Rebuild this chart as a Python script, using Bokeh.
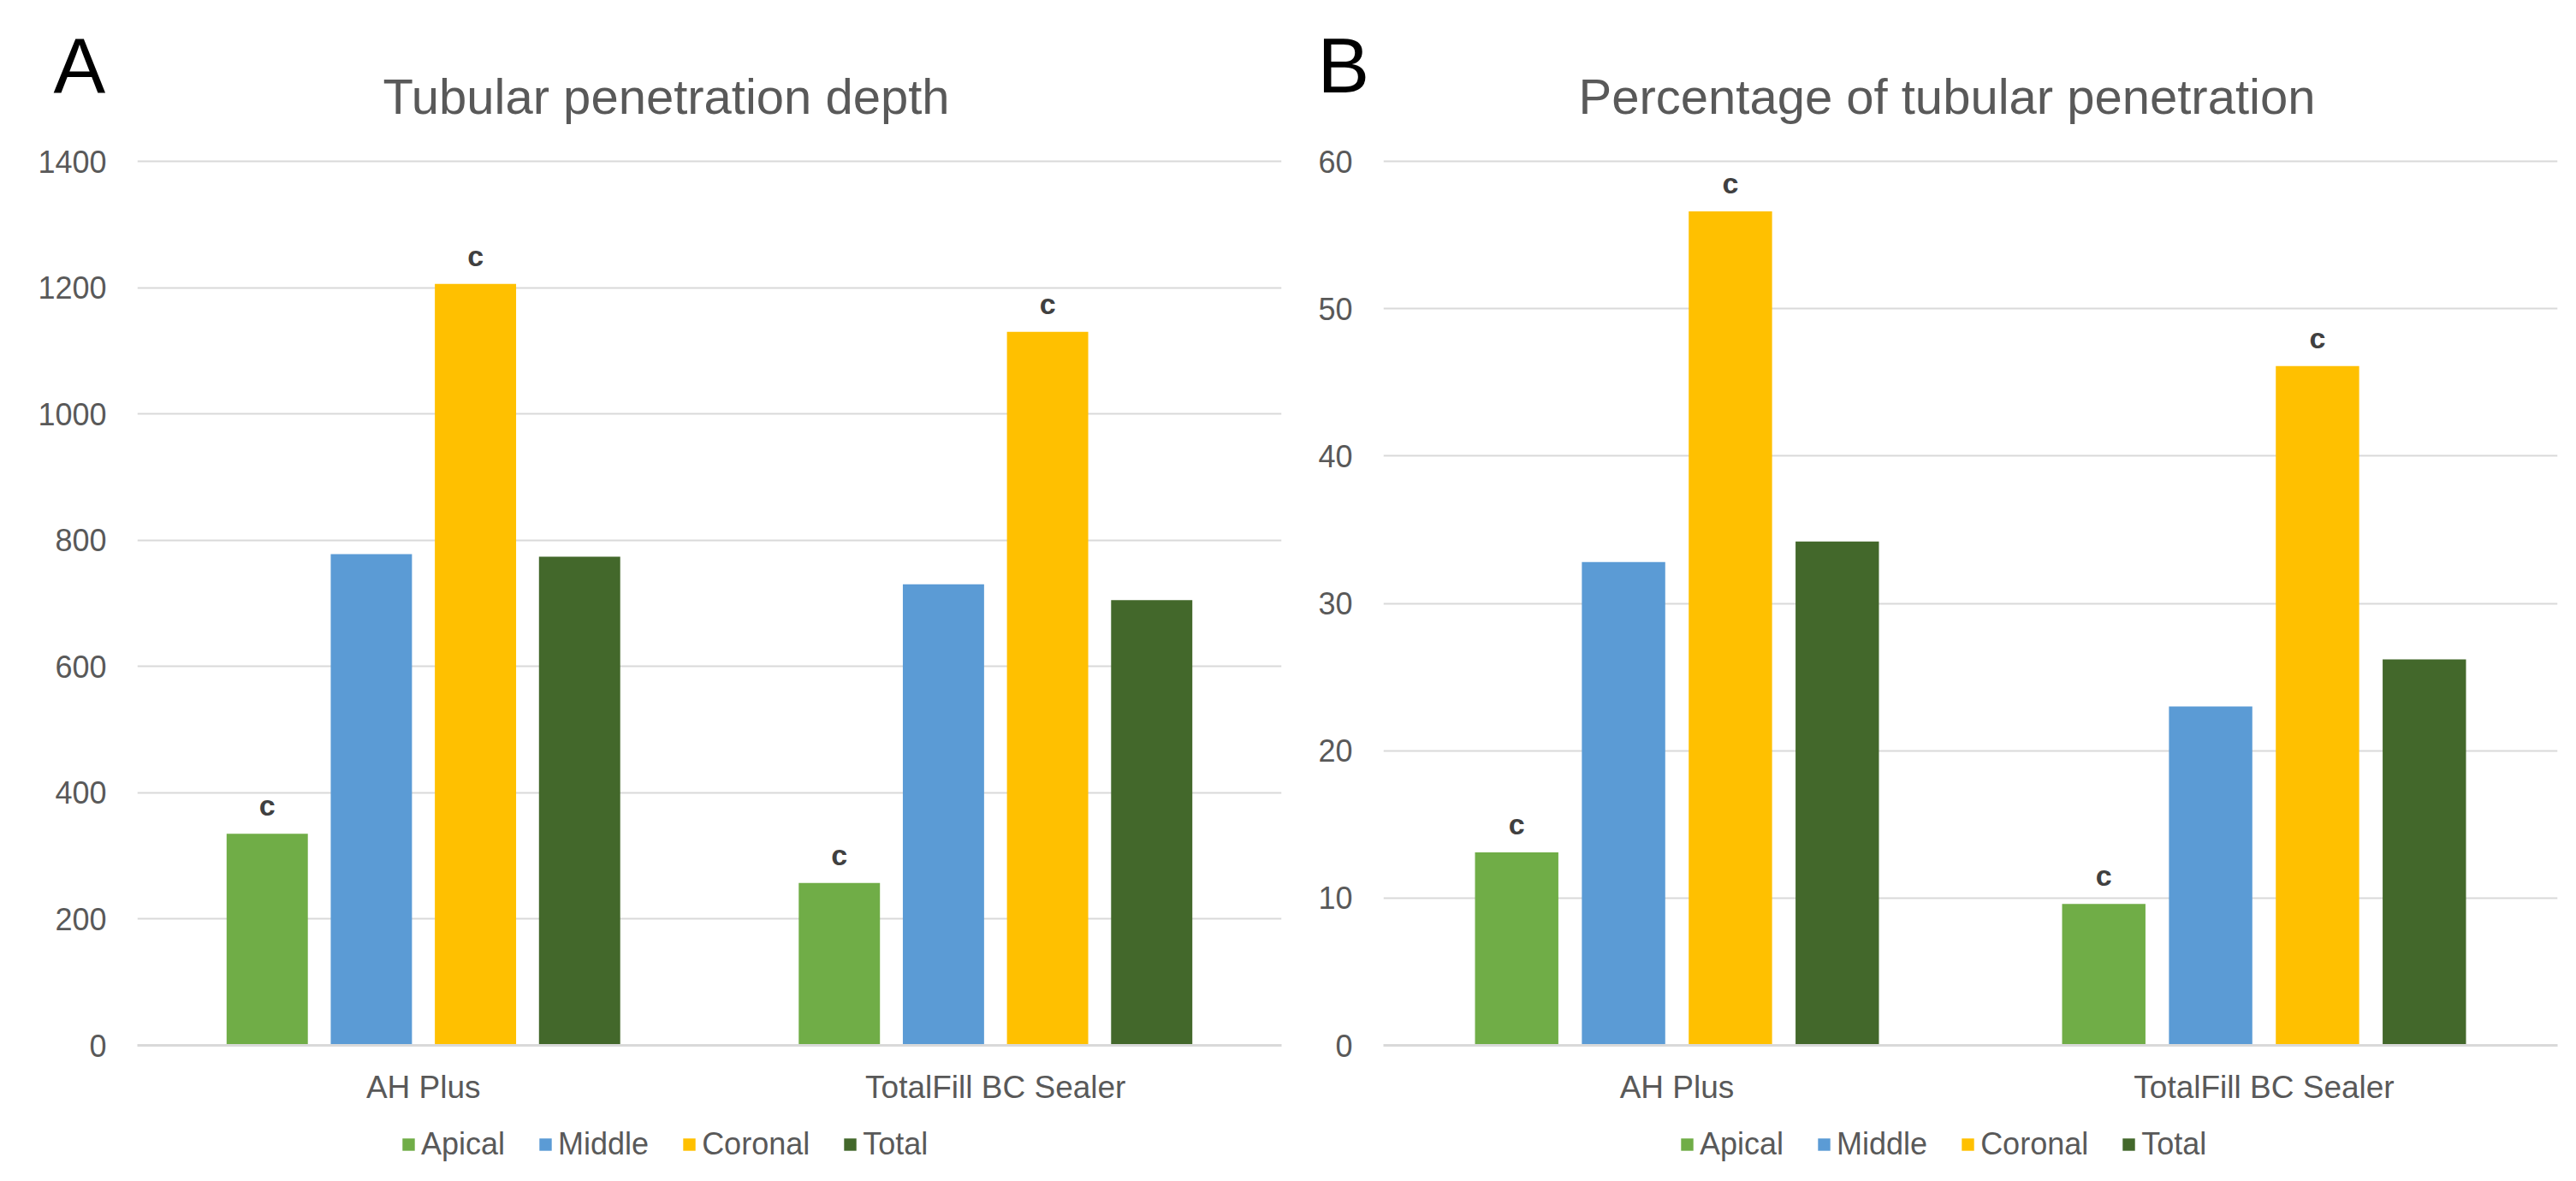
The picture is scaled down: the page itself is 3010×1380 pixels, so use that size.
from bokeh.plotting import figure
from bokeh.models import (ColumnDataSource, Range1d, FactorRange, FixedTicker,
                          Legend, LegendItem, LabelSet, Label)
from bokeh.core.properties import value
from bokeh.transform import dodge
from bokeh.layouts import row, column
from bokeh.embed import file_html
from bokeh.resources import INLINE

# ---------------- data ----------------
groups = ["AH Plus", "TotalFill BC Sealer"]
series = ["Apical", "Middle", "Coronal", "Total"]
colors = ["#70AD47", "#5B9BD5", "#FFC000", "#43682B"]

depth_apical = [335, 257]
depth_middle = [778, 730]
depth_coronal = [1206, 1130]
depth_total = [774, 705]

pct_apical = [13.1, 9.6]
pct_middle = [32.8, 23.0]
pct_coronal = [56.6, 46.1]
pct_total = [34.2, 26.2]

depth_ticks = [0, 200, 400, 600, 800, 1000, 1200, 1400]
pct_ticks = [0, 10, 20, 30, 40, 50, 60]

letters_apical = ["c", "c"]
letters_coronal = ["c", "c"]

panel_letters = ["A", "B"]
titles = ["Tubular penetration depth", "Percentage of tubular penetration"]

# ---------------- styling / layout ----------------
FONT = "Liberation Sans"
GREY = "#595959"
offsets = [-0.273, -0.091, 0.091, 0.273]
BAR_W = 0.142
TOTAL_W = 3004
TOP_H = 150          # strip holding panel letters and titles
CHART_H = 1145       # chart figures
FRAME_H = 1071       # frame from y=150 to y=1221
GRID_H = 1033        # top tick is 1033 px above the baseline
LEG_H = 65           # strip holding the legends


def blank_strip(h):
    s = figure(width=TOTAL_W, height=h, x_range=Range1d(0, TOTAL_W),
               y_range=Range1d(h, 0), x_axis_type=None, y_axis_type=None,
               output_backend="svg", toolbar_location=None, min_border=0)
    s.outline_line_color = None
    s.background_fill_color = "white"
    s.border_fill_color = "white"
    s.grid.visible = False
    return s


# top strip: panel letters + chart titles
top = blank_strip(TOP_H)
for txt, x in zip(panel_letters, [62, 1539]):
    top.add_layout(Label(x=x, y=76, text=txt, text_font=FONT,
                         text_font_size="91px", text_color="black",
                         text_baseline="middle", text_align="left"))
for txt, x in zip(titles, [447, 1844]):
    top.add_layout(Label(x=x, y=112, text=txt, text_font=FONT,
                         text_font_size="58px", text_color=GREY,
                         text_baseline="middle", text_align="left"))


def make_chart(vals, ticks, width, bl, br):
    ymax = ticks[-1] * FRAME_H / GRID_H
    p = figure(x_range=FactorRange(*groups), y_range=Range1d(0, ymax),
               width=width, height=CHART_H, output_backend="svg",
               toolbar_location=None, min_border_left=bl, min_border_right=br,
               min_border_top=0, min_border_bottom=CHART_H - FRAME_H)
    p.outline_line_color = None
    p.background_fill_color = "white"
    p.border_fill_color = "white"

    src = ColumnDataSource(dict(group=groups, Apical=vals[0], Middle=vals[1],
                                Coronal=vals[2], Total=vals[3],
                                la=letters_apical, lc=letters_coronal))
    for s, c, off in zip(series, colors, offsets):
        p.vbar(x=dodge("group", off, range=p.x_range), top=s, width=BAR_W,
               source=src, fill_color=c, line_color=None)

    for col, txt, off in (("Apical", "la", offsets[0]), ("Coronal", "lc", offsets[2])):
        p.add_layout(LabelSet(x=dodge("group", off, range=p.x_range), y=col,
                              text=txt, source=src, y_offset=21,
                              text_align="center", text_baseline="alphabetic",
                              text_font=value(FONT), text_font_size="34px",
                              text_font_style="bold", text_color="#404040"))

    p.yaxis.ticker = FixedTicker(ticks=ticks)
    p.yaxis.axis_line_color = None
    p.yaxis.major_tick_line_color = None
    p.yaxis.minor_tick_line_color = None
    p.yaxis.major_label_standoff = 30
    p.yaxis.major_label_text_font = FONT
    p.yaxis.major_label_text_font_size = "36px"
    p.yaxis.major_label_text_color = GREY

    p.xaxis.axis_line_color = "#D9D9D9"
    p.xaxis.axis_line_width = 3
    p.xaxis.major_tick_line_color = None
    p.xaxis.minor_tick_line_color = None
    p.xaxis.major_label_standoff = 22
    p.xaxis.major_label_text_font = FONT
    p.xaxis.major_label_text_font_size = "37px"
    p.xaxis.major_label_text_color = GREY

    p.xgrid.grid_line_color = None
    p.ygrid.grid_line_color = "#D9D9D9"
    p.ygrid.grid_line_width = 2
    p.ygrid.ticker = FixedTicker(ticks=ticks)
    return p


p1 = make_chart([depth_apical, depth_middle, depth_coronal, depth_total],
                depth_ticks, 1504, 160, 7)
p2 = make_chart([pct_apical, pct_middle, pct_coronal, pct_total],
                pct_ticks, 1500, 112, 16)

# legend strip (one legend under each chart); the swatch renderers are
# zero-height bars so that only the legend shows their colours
leg = figure(width=TOTAL_W, height=LEG_H, x_range=Range1d(0, TOTAL_W),
             y_range=Range1d(0, LEG_H), x_axis_type=None, y_axis_type=None,
             output_backend="svg", toolbar_location=None, min_border=0)
leg.outline_line_color = None
leg.background_fill_color = "white"
leg.border_fill_color = "white"
leg.grid.visible = False
for lx in (468, 1962):
    items = []
    for s, c in zip(series, colors):
        r = leg.vbar(x=[lx], top=[0], bottom=[0], width=1, fill_color=c,
                     line_color=None)
        items.append(LegendItem(label=s, renderers=[r]))
    leg.add_layout(Legend(items=items, orientation="horizontal",
                          location=(lx, 2), border_line_color=None,
                          background_fill_alpha=0, padding=0, margin=0,
                          spacing=38, glyph_width=18, glyph_height=18,
                          label_standoff=6, label_text_font=FONT,
                          label_text_font_size="36px", label_text_color=GREY))

layout = column(top, row(p1, p2), leg, spacing=0)
open("out.html", "w").write(file_html(layout, INLINE))
